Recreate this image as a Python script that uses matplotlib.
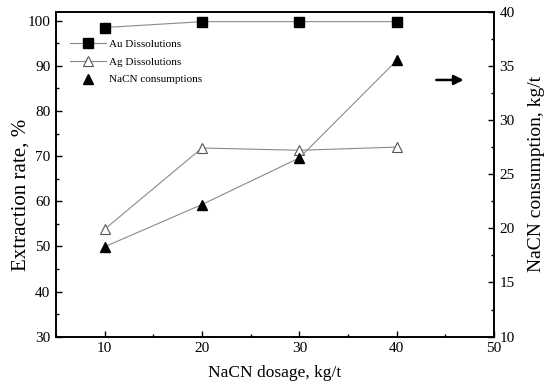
import matplotlib
matplotlib.use("Agg")
import matplotlib.pyplot as plt
from matplotlib.ticker import MultipleLocator

plt.rcParams['font.family'] = ['Liberation Serif', 'DejaVu Serif']

dosage = [10, 20, 30, 40]
au_dissolution = [98.5, 99.8, 99.8, 99.8]
ag_dissolution = [53.8, 71.8, 71.3, 72.0]
nacn_consumption = [18.3, 22.2, 26.5, 35.5]

fig = plt.figure(figsize=(5.5, 3.91), dpi=100)
ax = fig.add_axes([0.1018, 0.139, 0.7964, 0.831])
ax2 = ax.twinx()

line_color = '#8a8a8a'
l1, = ax.plot(dosage, au_dissolution, color=line_color, lw=0.8, marker='s',
              ms=6.5, mfc='black', mec='black', label='Au Dissolutions')
l2, = ax.plot(dosage, ag_dissolution, color=line_color, lw=0.8, marker='^',
              ms=7.5, mfc='white', mec='#555555', mew=0.8, label='Ag Dissolutions')
ax2.plot(dosage, nacn_consumption, color=line_color, lw=0.8, marker='^',
         ms=7.5, mfc='black', mec='black')
l3, = ax.plot([], [], ls='none', marker='^', ms=7.5, mfc='black', mec='black',
              label='NaCN consumptions')

ax.set_xlim(5, 50)
ax.set_ylim(30, 102)
ax2.set_ylim(10, 40)

ax.xaxis.set_major_locator(MultipleLocator(10))
ax.xaxis.set_minor_locator(MultipleLocator(5))
ax.yaxis.set_major_locator(MultipleLocator(10))
ax.yaxis.set_minor_locator(MultipleLocator(5))
ax2.yaxis.set_major_locator(MultipleLocator(5))
ax2.yaxis.set_minor_locator(MultipleLocator(2.5))

for a in (ax, ax2):
    a.tick_params(which='both', direction='in', labelsize=11, pad=4)
    a.tick_params(which='major', length=4, width=1)
    a.tick_params(which='minor', length=2.5, width=1)
    for s in a.spines.values():
        s.set_linewidth(1.2)
ax.tick_params(top=False, right=False, which='both')

ax.set_xlabel('NaCN dosage, kg/t', fontsize=12.5)
ax.xaxis.set_label_coords(0.5, -0.086)
ax.set_ylabel('Extraction rate, %', fontsize=15)
ax.yaxis.set_label_coords(-0.059, 0.437)
ax2.set_ylabel('NaCN consumption, kg/t', fontsize=14)
ax2.yaxis.set_label_coords(1.078, 0.5)

ax.legend(handles=[l1, l2, l3], loc='upper left', bbox_to_anchor=(0.01, 0.945),
          frameon=False, fontsize=8, handlelength=3.2, labelspacing=0.7,
          handletextpad=0.3)

ax.annotate('', xy=(0.937, 0.79), xytext=(0.862, 0.79), xycoords='axes fraction',
            arrowprops=dict(arrowstyle='-|>', color='black', lw=1.8,
                            mutation_scale=14))

fig.savefig('out.png', dpi=100)
